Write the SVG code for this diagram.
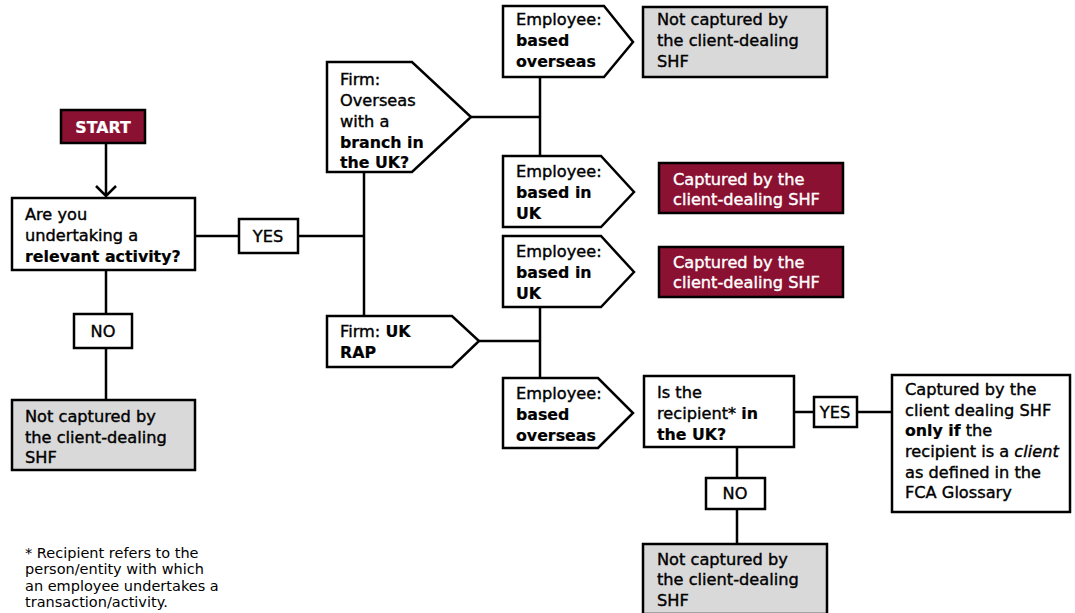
<svg xmlns="http://www.w3.org/2000/svg" width="1075" height="613" viewBox="0 0 1075 613">
<style>
text{font-family:"DejaVu Sans","Liberation Sans",sans-serif;font-size:16.2px;font-weight:400;fill:#000;stroke:#000;stroke-width:0.4}
.b{font-weight:700;font-size:15.8px;stroke-width:0.2}
.w{fill:#fff;stroke:#fff}
.c{text-anchor:middle}
.i{font-style:italic}
.box{fill:#fff;stroke:#000;stroke-width:2.5}
.red{fill:#8a1131;stroke:#000;stroke-width:2.5}
.grey{fill:#d9d9d9;stroke:#000;stroke-width:2.5}
.ln{fill:none;stroke:#000;stroke-width:2.5}
.fn{font-size:14.5px;stroke-width:0}
</style>
<g id="connectors">
<path class="ln" d="M106,143 V196 M96,186 L106,196 L116,186"/>
<path class="ln" d="M195,236 H239 M298,236 H364 M364,172 V316"/>
<path class="ln" d="M106,270 V314 M106,348 V400"/>
<path class="ln" d="M471,117 H540 M540,77 V156"/>
<path class="ln" d="M479,341 H540 M540,307 V378"/>
<path class="ln" d="M794,412 H814 M857,412 H892"/>
<path class="ln" d="M737,447 V478 M737,509 V544"/>
</g>
<g id="start"><rect class="red" x="61" y="110" width="84" height="33"/><text class="w c b" x="103" y="133">START</text></g>
<g id="q1"><rect class="box" x="12" y="198" width="183" height="72"/>
<text x="25" y="220">Are you</text><text x="25" y="241">undertaking a</text><text class="b" x="25" y="262">relevant activity?</text></g>
<g id="yes1"><rect class="box" x="239" y="219" width="59" height="34"/><text class="c" x="268" y="242">YES</text></g>
<g id="no1"><rect class="box" x="74" y="314" width="58" height="34"/><text class="c" x="103" y="337">NO</text></g>
<g id="notcap1"><rect class="grey" x="12" y="400" width="183" height="70"/>
<text x="25" y="422">Not captured by</text><text x="25" y="443">the client-dealing</text><text x="25" y="463">SHF</text></g>
<g id="firm-overseas"><path class="box" d="M327,62 H412 L471,117 L412,172 H327 Z"/>
<text x="340" y="85">Firm:</text><text x="340" y="106">Overseas</text><text x="340" y="127">with a</text><text class="b" x="340" y="148">branch in</text><text class="b" x="340" y="168">the UK?</text></g>
<g id="firm-uk"><path class="box" d="M327,316 H452 L479,341 L452,367 H327 Z"/>
<text x="340" y="337">Firm: <tspan class="b">UK</tspan></text><text class="b" x="340" y="358">RAP</text></g>
<g id="emp1"><path class="box" d="M503,6 H604 L633,42 L604,77 H503 Z"/>
<text x="516" y="25">Employee:</text><text class="b" x="516" y="46">based</text><text class="b" x="516" y="67">overseas</text></g>
<g id="notcap2"><rect class="grey" x="643" y="7" width="184" height="70"/>
<text x="657" y="25">Not captured by</text><text x="657" y="46">the client-dealing</text><text x="657" y="67">SHF</text></g>
<g id="emp2"><path class="box" d="M503,156 H601 L634,192 L601,227 H503 Z"/>
<text x="516" y="177">Employee:</text><text class="b" x="516" y="198">based in</text><text class="b" x="516" y="219">UK</text></g>
<g id="cap1"><rect class="red" x="659" y="163" width="184" height="50"/>
<text class="w" x="673" y="185">Captured by the</text><text class="w" x="673" y="205">client-dealing SHF</text></g>
<g id="emp3"><path class="box" d="M503,236 H601 L634,272 L601,307 H503 Z"/>
<text x="516" y="257">Employee:</text><text class="b" x="516" y="278">based in</text><text class="b" x="516" y="299">UK</text></g>
<g id="cap2"><rect class="red" x="659" y="247" width="184" height="50"/>
<text class="w" x="673" y="268">Captured by the</text><text class="w" x="673" y="288">client-dealing SHF</text></g>
<g id="emp4"><path class="box" d="M503,378 H598 L633,413 L598,448 H503 Z"/>
<text x="516" y="399">Employee:</text><text class="b" x="516" y="420">based</text><text class="b" x="516" y="441">overseas</text></g>
<g id="q2"><rect class="box" x="644" y="376" width="150" height="71"/>
<text x="657" y="398">Is the</text><text x="657" y="419">recipient* <tspan class="b">in</tspan></text><text class="b" x="657" y="440">the UK?</text></g>
<g id="yes2"><rect class="box" x="814" y="397" width="43" height="30"/><text class="c" x="835" y="418">YES</text></g>
<g id="onlyif"><rect class="box" x="892" y="375" width="178" height="137"/>
<text x="905" y="395">Captured by the</text><text x="905" y="416">client dealing SHF</text><text x="905" y="436"><tspan class="b">only if</tspan> the</text><text x="905" y="457">recipient is a <tspan class="i">client</tspan></text><text x="905" y="478">as defined in the</text><text x="905" y="498">FCA Glossary</text></g>
<g id="no2"><rect class="box" x="706" y="478" width="59" height="31"/><text class="c" x="735" y="499">NO</text></g>
<g id="notcap3"><rect class="grey" x="643" y="544" width="184" height="70"/>
<text x="657" y="565">Not captured by</text><text x="657" y="585">the client-dealing</text><text x="657" y="606">SHF</text></g>
<g id="footnote">
<text class="fn" x="25" y="558">* Recipient refers to the</text><text class="fn" x="25" y="574">person/entity with which</text><text class="fn" x="25" y="591">an employee undertakes a</text><text class="fn" x="25" y="607">transaction/activity.</text></g>
</svg>
